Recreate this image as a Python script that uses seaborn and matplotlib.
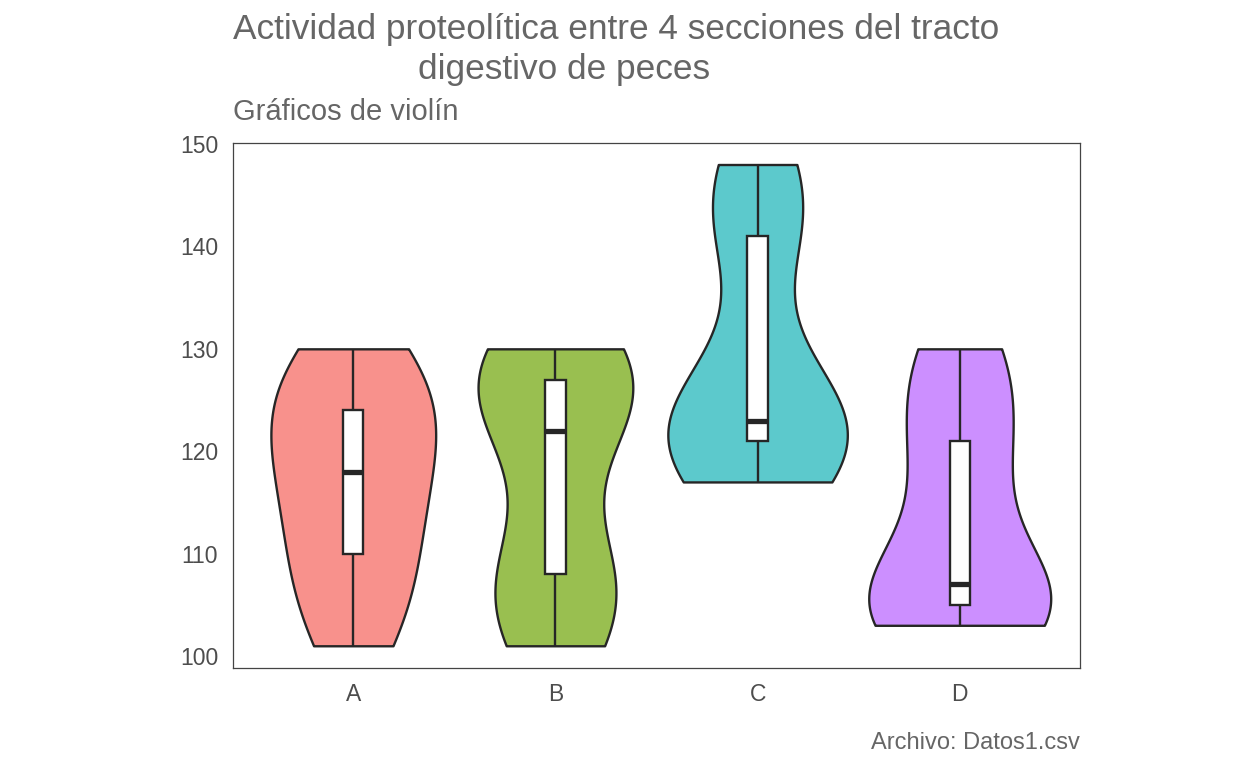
import numpy as np
import pandas as pd
import matplotlib
matplotlib.use("Agg")
import matplotlib.pyplot as plt
import seaborn as sns

# ---- data (estimated observations per section) ----
sec_A = [101, 106, 110, 114, 118, 121, 124, 127, 130]
sec_B = [101, 104, 108, 109, 122, 125, 127, 128, 130]
sec_C = [117, 120, 121, 122, 123, 126, 141, 144, 148]
sec_D = [103, 104, 105, 106, 107, 117, 121, 127, 130]
secciones = ["A", "B", "C", "D"]

titulo_1 = "Actividad proteolítica entre 4 secciones del tracto"
titulo_2 = "digestivo de peces"
subtitulo = "Gráficos de violín"
pie = "Archivo: Datos1.csv"

df = pd.DataFrame({
    "seccion": sum([[s] * len(v) for s, v in zip(secciones, [sec_A, sec_B, sec_C, sec_D])], []),
    "actividad": sec_A + sec_B + sec_C + sec_D,
})

sns.set_theme(style="white")
plt.rcParams["font.family"] = ["Liberation Sans", "DejaVu Sans"]

W, H = 1248, 768
fig = plt.figure(figsize=(W / 100, H / 100), dpi=100)
ax = fig.add_axes([233 / W, (H - 668) / H, (1080 - 233) / W, (668 - 143) / H])

pal = dict(zip(secciones, ["#F8918C", "#99BF50", "#5CC9CC", "#CC8FFF"]))


def nrd0(kde):
    # R's default bandwidth rule (bw.nrd0), expressed as a factor of the sd
    x = np.asarray(kde.dataset).ravel()
    sd = np.std(x, ddof=1)
    iqr = np.subtract(*np.percentile(x, [75, 25]))
    bw = 0.9 * min(sd, iqr / 1.34) * len(x) ** (-0.2)
    return bw / sd


sns.violinplot(data=df, x="seccion", y="actividad", hue="seccion", palette=pal,
               order=secciones, hue_order=secciones, cut=0, inner=None,
               bw_method=nrd0, gridsize=256,
               density_norm="area", common_norm=True, width=0.9,
               linewidth=1.7, linecolor="#262626",
               saturation=1, legend=False, ax=ax)
sns.boxplot(data=df, x="seccion", y="actividad", order=secciones, color="white",
            width=0.1, linewidth=1.7, linecolor="#262626", showfliers=False,
            showcaps=False, saturation=1,
            medianprops=dict(linewidth=3.8, color="#262626"), ax=ax)

ax.set_xlim(-0.595, 3.595)
ax.set_ylim(98.83, 150.1)
ax.set_yticks([100, 110, 120, 130, 140, 150])
ax.set_xlabel("")
ax.set_ylabel("")
ax.tick_params(axis="both", length=0, labelsize=16.5, colors="#4D4D4D", pad=10.8)
for sp in ax.spines.values():
    sp.set_visible(True)
    sp.set_color("#444444")
    sp.set_linewidth(0.9)

fig.text(233 / W, 1 - 38.5 / H, titulo_1, ha="left", va="baseline",
         fontsize=25.4, color="#666666")
fig.text(418 / W, 1 - 78.5 / H, titulo_2, ha="left", va="baseline",
         fontsize=25.4, color="#666666")
fig.text(233 / W, 1 - 120 / H, subtitulo, ha="left", va="baseline",
         fontsize=21, color="#666666")
fig.text(1080 / W, 1 - 749 / H, pie, ha="right", va="baseline",
         fontsize=17, color="#666666")

fig.savefig("out.png", dpi=100, facecolor="white")
